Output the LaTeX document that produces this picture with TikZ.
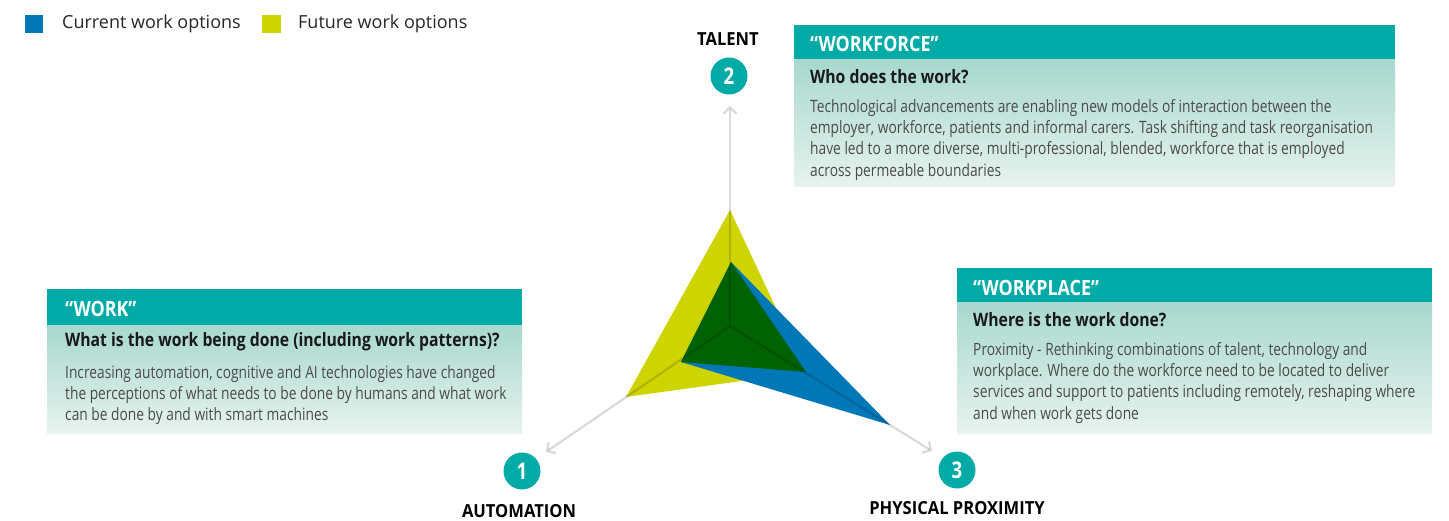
\documentclass[tikz,border=0pt]{standalone}
\usepackage{fontspec}
\setmainfont{Open Sans}
\newfontfamily\condfont[FakeStretch=0.81]{Open Sans}
\newfontfamily\headfont[FakeStretch=0.85]{Open Sans}
\newfontfamily\labelfont[FakeStretch=0.92]{Open Sans}
\usetikzlibrary{arrows.meta}

\definecolor{tealhead}{RGB}{0,170,167}
\definecolor{currentblue}{RGB}{0,119,182}
\definecolor{futuregreen}{RGB}{205,212,0}
\definecolor{overlapgreen}{RGB}{0,98,0}
\definecolor{boxtop}{RGB}{168,216,206}
\definecolor{boxbottom}{RGB}{231,243,238}
\definecolor{bodygray}{RGB}{75,75,75}

\tikzset{
  headbar/.style={fill=tealhead},
  boxbody/.style={top color=boxtop, bottom color=boxbottom},
  boxtitle/.style={anchor=west, inner sep=0pt, text=white, font=\headfont\bfseries\fontsize{21}{24}\selectfont},
  boxquestion/.style={anchor=west, inner sep=0pt, text=black!90, font=\headfont\bfseries\fontsize{18.5}{21}\selectfont},
  boxtext/.style={anchor=north west, inner sep=0pt, align=left, text=bodygray, font=\condfont\fontsize{17}{21.3}\selectfont},
  axislabel/.style={inner sep=0pt, font=\labelfont\bfseries\fontsize{18}{20}\selectfont},
  numdot/.style={circle, fill=tealhead, minimum size=37pt, inner sep=0pt, text=white, font=\condfont\bfseries\fontsize{23}{23}\selectfont},
  axis/.style={draw=black, draw opacity=0.15, line width=2.2pt, -{Straight Barb[length=6pt,width=13pt]}},
  legendtext/.style={anchor=west, inner sep=0pt, text=black!85, font=\fontsize{18}{20}\selectfont}
}

\begin{document}
\begin{tikzpicture}[x=1pt, y=-1pt]
\useasboundingbox (0,0) rectangle (1449,521);

% legend
\fill[currentblue] (25,15) rectangle (43,33);
\node[legendtext] (curlab) at (62,24) {Current work options};
\fill[futuregreen] (262,15) rectangle (281,33);
\node[legendtext] (futlab) at (298,24) {Future work options};

% triangles
\fill[futuregreen] (730,210) -- (626,397) -- (806,372) -- cycle;
\fill[currentblue] (731,262) -- (681,362) -- (890,425) -- cycle;
\fill[overlapgreen] (731,262) -- (681,362) -- (806,372) -- cycle;

% axes
\coordinate (o) at (730,326);
\coordinate (tipT) at (730,106);
\coordinate (tipA) at (546,452);
\coordinate (tipP) at (932,451);
\draw[axis] (o) -- (tipT);
\draw[axis] (o) -- (tipA);
\draw[axis] (o) -- (tipP);

\node[numdot] (n2) at (729,76) {2};
\node[numdot] (n1) at (522,471) {1};
\node[numdot] (n3) at (957,470) {3};
\node[axislabel] (talent) at (728,39) {TALENT};
\node[axislabel] (automation) at (519,511) {AUTOMATION};
\node[axislabel] (proximity) at (957,508) {PHYSICAL PROXIMITY};

% workforce box
\fill[headbar] (794,25) rectangle (1395,60);
\shade[boxbody] (794,60) rectangle (1395,187);
\node[boxtitle] (wftitle) at (810,44) {“WORKFORCE”};
\node[boxquestion] (wfq) at (810,77) {Who does the work?};
\node[boxtext] (wftext) at (810,99) {Technological advancements are enabling new models of interaction between the\\
employer, workforce,  patients and informal carers. Task shifting and task reorganisation\\
have led to a more diverse, multi-professional, blended,  workforce that is employed\\
across permeable boundaries};

% work box
\fill[headbar] (47,289) rectangle (522,326);
\shade[boxbody] (47,326) rectangle (522,433);
\node[boxtitle] (wtitle) at (65,309) {“WORK”};
\node[boxquestion] (wq) at (65,342) {What is the work being done (including work patterns)?};
\node[boxtext] (wtext) at (65,365) {Increasing automation, cognitive and AI technologies have changed\\
the perceptions of what needs to be done by humans and what work\\
can be done by and with smart machines};

% workplace box
\fill[headbar] (957,268) rectangle (1432,303);
\shade[boxbody] (957,303) rectangle (1432,433);
\node[boxtitle] (wptitle) at (973,288) {“WORKPLACE”};
\node[boxquestion] (wpq) at (973,320) {Where is the work done?};
\node[boxtext] (wptext) at (973,342) {Proximity - Rethinking combinations of talent, technology and\\
workplace. Where do the workforce need to be located to deliver\\
services and support to patients including remotely, reshaping where\\
and when work gets done};
\end{tikzpicture}
\end{document}
